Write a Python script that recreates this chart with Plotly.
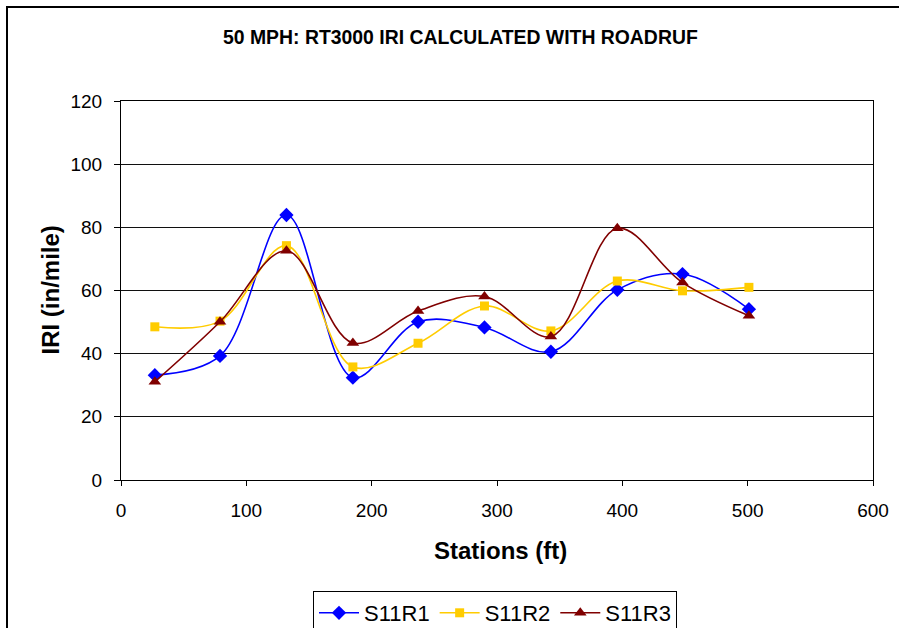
import plotly.graph_objects as go

# Station positions (ft) and IRI values (in/mile) for each run
stations = [27, 79, 132, 185, 237, 290, 343, 396, 448, 501]
s11r1 = [33.2, 39.3, 83.9, 32.4, 50.1, 48.3, 40.6, 60.2, 65.2, 54.1]
s11r2 = [48.5, 50.3, 74.2, 35.8, 43.3, 55.1, 47.2, 63.0, 59.9, 61.0]
s11r3 = [31.1, 50.1, 72.6, 43.4, 53.5, 58.1, 45.4, 79.7, 62.5, 52.0]

series = [
    ("S11R1", s11r1, "#0000FF", "diamond", 11),
    ("S11R2", s11r2, "#FFCC00", "square", 9),
    ("S11R3", s11r3, "#800000", "triangle-up", 11),
]

W, H = 899, 628
L, R, T, B = 121, 873, 101, 480

fig = go.Figure()
for name, vals, color, sym, size in series:
    fig.add_trace(go.Scatter(
        x=stations, y=vals, name=name, mode="lines+markers",
        line=dict(color=color, width=1.6, shape="spline", smoothing=1.0),
        marker=dict(symbol=sym, size=size, color=color),
    ))

font_main = "Liberation Sans, Arial, sans-serif"
font_narrow = "Liberation Sans Narrow, Arial Narrow, Liberation Sans, sans-serif"

fig.update_layout(
    width=W, height=H,
    margin=dict(l=L, r=W - R, t=T, b=H - B, pad=0, autoexpand=False),
    paper_bgcolor="white", plot_bgcolor="white",
    showlegend=True,
    font=dict(family=font_main, size=19, color="black"),
    legend=dict(
        orientation="h", x=(495 - L) / (R - L), xanchor="center",
        y=(B - 591) / (B - T), yanchor="top",
        bordercolor="black", borderwidth=1,
        font=dict(size=22, family=font_main),
        itemwidth=40, tracegroupgap=0,
    ),
)

fig.update_xaxes(
    range=[0, 600], tickvals=[0, 100, 200, 300, 400, 500, 600],
    showgrid=False, zeroline=False,
    showline=True, linecolor="black", linewidth=1, mirror=True,
    ticks="outside", ticklen=5, tickcolor="black",
    ticklabelstandoff=8,
    tickfont=dict(size=19, family=font_main),
)
fig.update_yaxes(
    range=[0, 120], tickvals=[0, 20, 40, 60, 80, 100, 120],
    showgrid=True, gridcolor="#101010", gridwidth=1, zeroline=False,
    showline=True, linecolor="black", linewidth=1, mirror=True,
    ticks="outside", ticklen=6, tickcolor="black",
    ticklabelstandoff=8,
    tickfont=dict(size=19, family=font_main),
)

px_to_x = lambda px: (px - L) / (R - L)
px_to_y = lambda py: (B - py) / (B - T)

fig.add_annotation(
    text="<b>50 MPH: RT3000 IRI CALCULATED WITH ROADRUF</b>",
    xref="paper", yref="paper", x=px_to_x(460), y=px_to_y(37),
    xanchor="center", yanchor="middle", showarrow=False,
    font=dict(size=19.4, family=font_narrow),
)
fig.add_annotation(
    text="<b>Stations (ft)</b>",
    xref="paper", yref="paper", x=px_to_x(500), y=px_to_y(550),
    xanchor="center", yanchor="middle", showarrow=False,
    font=dict(size=24, family=font_main),
)
fig.add_annotation(
    text="<b>IRI (in/mile)</b>",
    xref="paper", yref="paper", x=px_to_x(50), y=0.5,
    xanchor="center", yanchor="middle", showarrow=False, textangle=-90,
    font=dict(size=24, family=font_main),
)

# Outer chart frame
fig.add_shape(
    type="rect", xref="paper", yref="paper",
    x0=px_to_x(7), x1=px_to_x(W + 20), y0=px_to_y(H + 20), y1=px_to_y(7),
    line=dict(color="black", width=2), fillcolor="rgba(0,0,0,0)", layer="below",
)

fig.write_html("out.html")
